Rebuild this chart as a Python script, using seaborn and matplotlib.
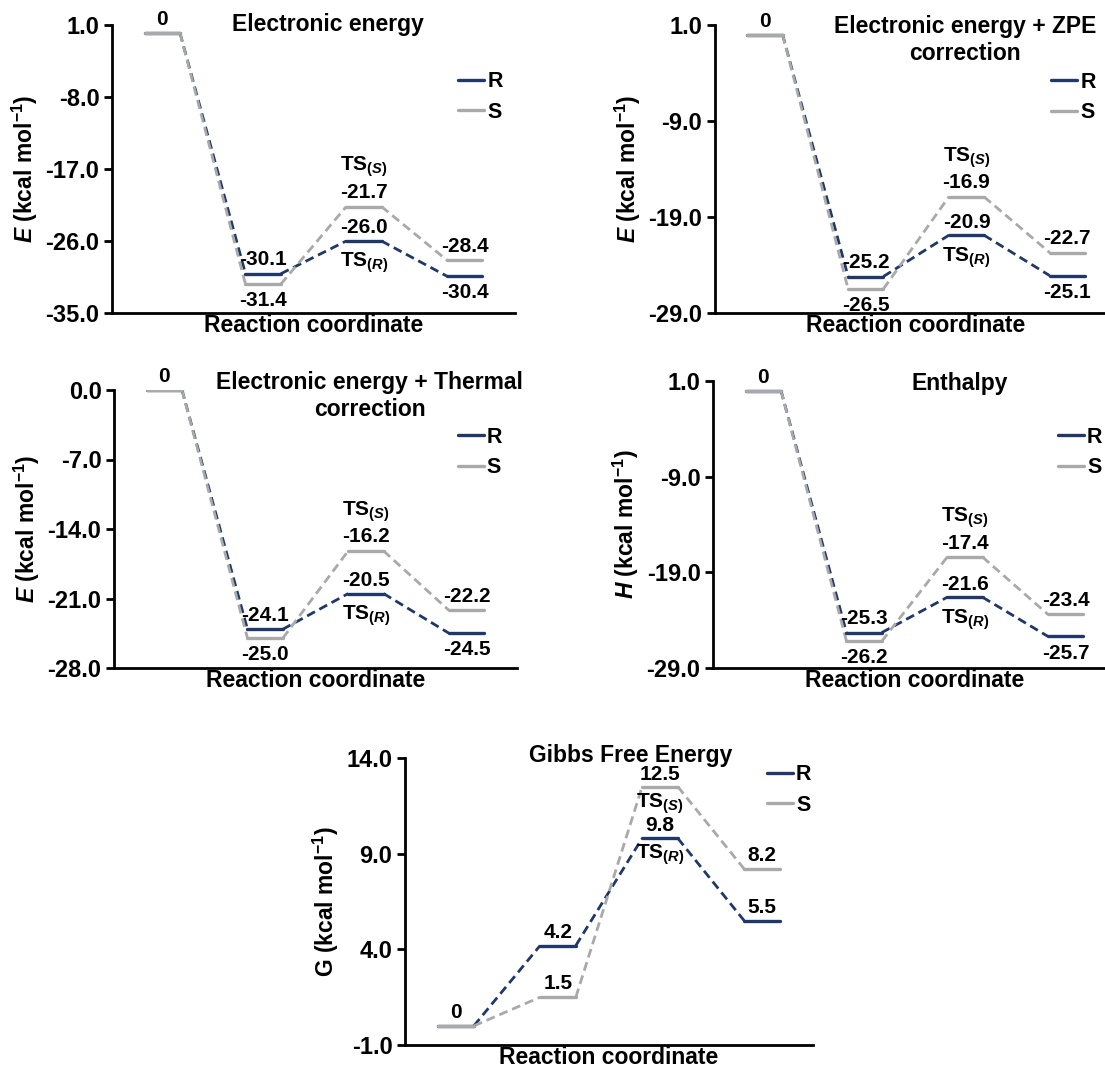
import numpy as np
import pandas as pd
import seaborn as sns
import matplotlib
matplotlib.use("Agg")
import matplotlib.pyplot as plt
from matplotlib.lines import Line2D
from matplotlib.ticker import FormatStrFormatter

# ---------------- data ----------------
states = ["Reactant", "Intermediate", "TS", "Product"]
series_names = ["R", "S"]

ee_R = [0, -30.1, -26.0, -30.4]
ee_S = [0, -31.4, -21.7, -28.4]
zpe_R = [0, -25.2, -20.9, -25.1]
zpe_S = [0, -26.5, -16.9, -22.7]
th_R = [0, -24.1, -20.5, -24.5]
th_S = [0, -25.0, -16.2, -22.2]
h_R = [0, -25.3, -21.6, -25.7]
h_S = [0, -26.2, -17.4, -23.4]
g_R = [0, 4.2, 9.8, 5.5]
g_S = [0, 1.5, 12.5, 8.2]

titles = ["Electronic energy", "Electronic energy + ZPE\ncorrection",
          "Electronic energy + Thermal\ncorrection", "Enthalpy", "Gibbs Free Energy"]
ylabels = [r"$\mathit{E}$ (kcal mol$^{-1}$)", r"$\mathit{E}$ (kcal mol$^{-1}$)",
           r"$\mathit{E}$ (kcal mol$^{-1}$)", r"$\mathit{H}$ (kcal mol$^{-1}$)",
           r"G (kcal mol$^{-1}$)"]
ylims = [(-35.0, 1.0), (-29.0, 1.0), (-28.0, 0.0), (-29.0, 1.0), (-1.0, 14.0)]
ysteps = [9.0, 10.0, 7.0, 10.0, 5.0]
ts_labels = {"R": r"TS$_{(\mathit{R})}$", "S": r"TS$_{(\mathit{S})}$"}

# ---------------- style ----------------
sns.set_theme(style="white")
plt.rcParams.update({
    "font.family": ["Liberation Sans", "DejaVu Sans"],
    "font.weight": "bold",
    "axes.labelweight": "bold",
    "axes.unicode_minus": False,
    "mathtext.fontset": "custom",
    "mathtext.default": "regular",
    "mathtext.rm": "Liberation Sans:bold",
    "mathtext.it": "Liberation Sans:italic:bold",
    "mathtext.bf": "Liberation Sans:bold",
    "text.color": "black",
    "axes.labelcolor": "black",
    "xtick.color": "black",
    "ytick.color": "black",
    "axes.edgecolor": "black",
})

PAL = {"R": "#1F3868", "S": "#A9A9A9"}
HW = 0.175
W, H = 1105, 1072

fig = plt.figure(figsize=(W / 100, H / 100), dpi=100)


def rect(left, right, top, bottom):
    return [left / W, 1 - bottom / H, (right - left) / W, (bottom - top) / H]


panels = [
    dict(R=ee_R, S=ee_S, rect=rect(112, 515, 25, 313), title_xy=(0.536, 1.0),
         leg=(0.859, 0.75), mode="energy"),
    dict(R=zpe_R, S=zpe_S, rect=rect(714.6, 1117.6, 25, 313), title_xy=(0.621, 0.948),
         leg=(0.835, 0.748), mode="energy"),
    dict(R=th_R, S=th_S, rect=rect(114, 517, 390, 668), title_xy=(0.635, 0.978),
         leg=(0.853, 0.775), mode="energy"),
    dict(R=h_R, S=h_S, rect=rect(713, 1116, 381, 668), title_xy=(0.613, 0.993),
         leg=(0.856, 0.751), mode="energy"),
    dict(R=g_R, S=g_S, rect=rect(405, 813, 758, 1045), title_xy=(0.554, 1.010),
         leg=(0.887, 0.888), mode="gibbs"),
]


def fmt(v):
    return "0" if v == 0 else f"{v:.1f}"


def put(ax, x, y, text, dy, size=15):
    ax.annotate(text, (x, y), xytext=(0, dy), textcoords="offset points",
                ha="center", va="center", fontsize=size, fontweight="bold")


for k, p in enumerate(panels):
    ax = fig.add_axes(p["rect"])
    vals = {"R": p["R"], "S": p["S"]}

    lev_rows, con_rows = [], []
    for s in series_names:
        v = vals[s]
        for i in range(len(states)):
            lev_rows.append(dict(series=s, seg=f"{s}{i}", x=i - HW, E=v[i]))
            lev_rows.append(dict(series=s, seg=f"{s}{i}", x=i + HW, E=v[i]))
        for i in range(len(states) - 1):
            con_rows.append(dict(series=s, seg=f"{s}c{i}", x=i + HW, E=v[i]))
            con_rows.append(dict(series=s, seg=f"{s}c{i}", x=i + 1 - HW, E=v[i + 1]))
    lev = pd.DataFrame(lev_rows)
    con = pd.DataFrame(con_rows)

    sns.lineplot(data=con, x="x", y="E", hue="series", hue_order=series_names,
                 units="seg", estimator=None, sort=False, palette=PAL,
                 linewidth=2.0, linestyle=(0, (3.2, 1.8)), legend=False, ax=ax)
    sns.lineplot(data=lev, x="x", y="E", hue="series", hue_order=series_names,
                 units="seg", estimator=None, sort=False, palette=PAL,
                 linewidth=2.4, legend=False, ax=ax)

    # value labels
    R, S = vals["R"], vals["S"]
    put(ax, 0, 0, "0", 9.5)
    if p["mode"] == "energy":
        put(ax, 1, R[1], fmt(R[1]), 10)
        put(ax, 1, S[1], fmt(S[1]), -12)
        put(ax, 2, S[2], fmt(S[2]), 10)
        put(ax, 2, S[2], ts_labels["S"], 28.5)
        put(ax, 2, R[2], fmt(R[2]), 9.5)
        put(ax, 2, R[2], ts_labels["R"], -16)
        put(ax, 3, S[3], fmt(S[3]), 10)
        put(ax, 3, R[3], fmt(R[3]), -12)
    else:
        put(ax, 1, R[1], fmt(R[1]), 9.5)
        put(ax, 1, S[1], fmt(S[1]), 9.5)
        put(ax, 2, S[2], fmt(S[2]), 8.5)
        put(ax, 2, S[2], ts_labels["S"], -12)
        put(ax, 2, R[2], fmt(R[2]), 9)
        put(ax, 2, R[2], ts_labels["R"], -11.5)
        put(ax, 3, S[3], fmt(S[3]), 9.5)
        put(ax, 3, R[3], fmt(R[3]), 9.5)

    lo, hi = ylims[k]
    ax.set_xlim(-0.5, 3.5)
    ax.set_ylim(lo, hi)
    ax.set_yticks(np.arange(lo, hi + 1e-6, ysteps[k]))
    ax.yaxis.set_major_formatter(FormatStrFormatter("%.1f"))
    ax.set_xticks([])
    for side in ("top", "right"):
        ax.spines[side].set_visible(False)
    for side in ("left", "bottom"):
        ax.spines[side].set_linewidth(2.0)
        ax.spines[side].set_color("black")
    ax.tick_params(axis="y", left=True, direction="out", length=6, width=2,
                   labelsize=17, pad=3)
    for t in ax.get_yticklabels():
        t.set_fontweight("bold")
    ax.set_xlabel("Reaction coordinate", fontsize=16.5, fontweight="bold", labelpad=1)
    ax.set_ylabel(ylabels[k], fontsize=16.5, fontweight="bold", labelpad=4)

    tx, ty = p["title_xy"]
    ax.text(tx, ty, titles[k], transform=ax.transAxes, ha="center", va="center",
            fontsize=16.5, fontweight="bold", linespacing=1.25)

    handles = [Line2D([], [], color=PAL[s], lw=2.4, label=s) for s in series_names]
    ax.legend(handles=handles, loc="center left", bbox_to_anchor=p["leg"],
              frameon=False, borderpad=0, borderaxespad=0, handlelength=1.2,
              handletextpad=0.15, labelspacing=0.45,
              prop={"weight": "bold", "size": 15.5})

fig.savefig("out.png", dpi=100)
